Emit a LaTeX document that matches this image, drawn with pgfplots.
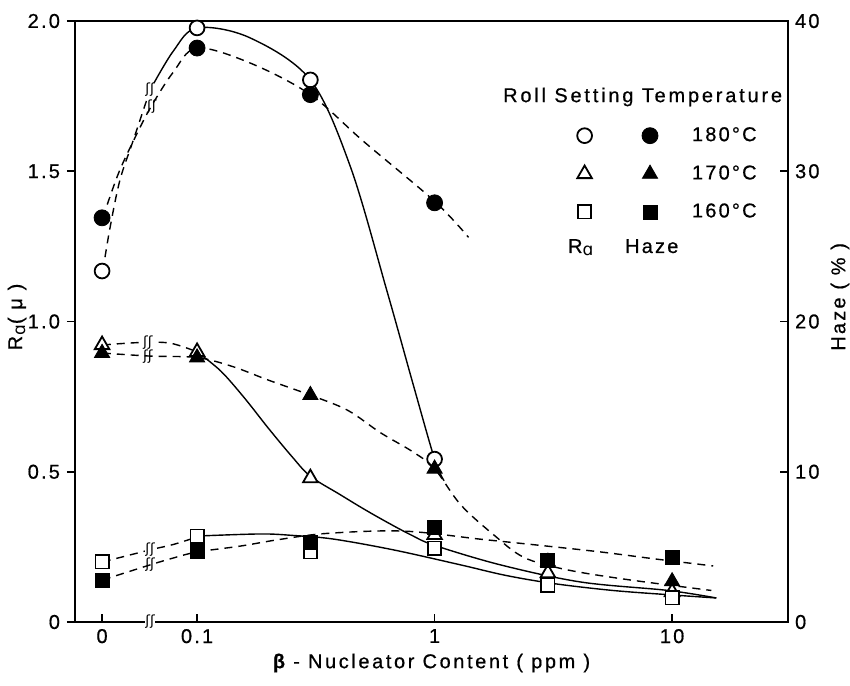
\documentclass[border=0pt]{standalone}
\usepackage{fontspec}
\setmainfont{Liberation Sans}[LetterSpace=11, FakeBold=0.6]
\newfontfamily\dejavu{DejaVu Sans}
\usepackage{pgfplots}
\pgfplotsset{compat=1.18}
\tikzset{brk/.style={fill=white, inner sep=0.2pt, font=\dejavu\fontsize{7}{7}\selectfont}}

\begin{document}
\begin{tikzpicture}[font=\fontsize{10}{12}\selectfont]
\pgfplotsset{
  base/.style={scale only axis, width=356.5pt, height=300.5pt, at={(0,0)}, anchor=south west,
    xmin=-1.514, xmax=1.488,
    /pgf/number format/assume math mode=true,
    tick label style={font=\fontsize{10}{12}\selectfont},
    label style={font=\fontsize{10}{12}\selectfont},
    axis line style={line width=0.9pt},
    major tick length=4pt,
    every tick/.style={line width=0.8pt, black}},
  cur/.style={black, line width=0.7pt, smooth, tension=0.55, no marks},
  dsh/.style={cur, dash pattern=on 4pt off 3pt},
  opn/.style={only marks, black, line width=0.9pt, mark options={fill=white, solid}},
  fil/.style={only marks, black, mark options={fill=black, solid}},
}
\begin{axis}[base, ymin=0, ymax=2,
  xtick={-1.4,-1,0,1}, xticklabels={0,0.1,1,10}, xtick pos=bottom, xtick align=inside,
  ytick={0,0.5,1,1.5,2}, yticklabels={0,0.5,1.0,1.5,2.0}, ytick pos=left, ytick align=outside,
  xlabel={\addfontfeature{LetterSpace=13}{\bfseries β} - Nucleator Content ( ppm )},
  ylabel={R\textsubscript{\dejavu\fontsize{8.5}{9}\selectfont ɑ}( μ )},
  every axis x label/.style={at={(axis description cs:0.5,0)}, anchor=center, yshift=-20.5pt},
  every axis y label/.style={at={(axis description cs:-0.0814,0.5075)}, anchor=center, rotate=90},
  clip=false]
% 180 C  Ra
\addplot[dsh] coordinates {(-1.397,1.168)(-1.367,1.31)(-1.325,1.47)(-1.27,1.60)(-1.198,1.77)};
\addplot[cur] coordinates {(-1.198,1.77)(-1.1,1.90)(-1,1.977)(-0.78,1.945)(-0.523,1.804)(-0.354,1.514)(-0.2,1.10)(-0.09,0.79)(0,0.542)(0.04,0.47)};
% 170 C  Ra
\addplot[dsh] coordinates {(-1.397,0.922)(-1.24,0.93)(-1.114,0.928)(-1,0.899)};
\addplot[cur] coordinates {(-1,0.899)(-0.9,0.835)(-0.8,0.745)(-0.7,0.645)(-0.6,0.55)(-0.523,0.485)(-0.4,0.425)(-0.3,0.377)(-0.2,0.332)(-0.1,0.29)(0,0.255)(0.278,0.19)(0.616,0.133)(0.983,0.105)(1.186,0.08)};
% 160 C  Ra
\addplot[dsh] coordinates {(-1.397,0.2)(-1.198,0.24)(-1.1,0.258)(-1,0.283)};
\addplot[cur] coordinates {(-1,0.286)(-0.734,0.293)(-0.595,0.288)(-0.426,0.276)(-0.173,0.24)(0.11,0.19)(0.3,0.155)(0.5,0.128)(0.75,0.105)(1.0,0.09)(1.186,0.08)};
% Ra markers
\addplot[opn, mark=*, mark size=3.7pt] coordinates {(-1.4,1.168)(-1,1.977)(-0.523,1.804)(0,0.542)};
\addplot[opn, mark=triangle*, mark size=4.2pt] coordinates {(-1.4,0.922)(-1,0.899)(-0.523,0.479)(0,0.29)(0.477,0.163)(1,0.10)};
\addplot[opn, mark=square*, mark size=3.3pt] coordinates {(-1.4,0.2)(-1,0.286)(-0.523,0.233)(0,0.246)(0.477,0.123)(1,0.08)};
% break marks
\node[brk] at (axis cs:-1.198,1.77) {ʃʃ};
\node[brk] at (axis cs:-1.19,1.714) {ʃʃ};
\node[brk] at (axis cs:-1.207,0.93) {ʃʃ};
\node[brk] at (axis cs:-1.207,0.884) {ʃʃ};
\node[brk] at (axis cs:-1.198,0.24) {ʃʃ};
\node[brk] at (axis cs:-1.198,0.19) {ʃʃ};
\node[brk] at (axis cs:-1.198,0) {ʃʃ};
% legend texts
\node[anchor=base west, inner sep=0pt] at (axis description cs:0.600,0.865) {\addfontfeature{LetterSpace=14}Roll Setting Temperature};
\node[anchor=base west, inner sep=0pt] at (axis description cs:0.691,0.614) {R\textsubscript{\dejavu\fontsize{8.5}{9}\selectfont ɑ}};
\node[anchor=base west, inner sep=0pt] at (axis description cs:0.771,0.614) {Haze};
\end{axis}
\begin{axis}[base, ymin=0, ymax=40,
  axis x line=none, axis y line*=right,
  ytick={0,10,20,30,40}, yticklabels={0,10,20,30,40}, ytick align=inside,
  ylabel={Haze ( \% )},
  every axis y label/.style={at={(axis description cs:1.073,0.541)}, anchor=center, rotate=90},
  legend columns=2,
  legend style={at={(axis description cs:0.7038,0.824)}, anchor=north west, draw=none, fill=none,
    inner sep=0pt, column sep=0pt, row sep=10.5pt, nodes={inner sep=0pt, anchor=west}},
  legend cell align=left,
  clip=false]
% haze curves
\addplot[dsh, forget plot] coordinates {(-1.397,26.9)(-1.33,29.9)(-1.25,32.6)(-1.19,34.4)(-1.1,36.6)(-1,38.2)(-0.776,37.2)(-0.523,35.1)(-0.3,32.0)(0,28.0)(0.143,25.6)};
\addplot[dsh, forget plot] coordinates {(-1.397,17.9)(-1.2,17.7)(-1,17.6)(-0.85,17.0)(-0.7,16.1)(-0.523,15.1)(-0.367,14.1)(-0.228,12.6)(-0.089,11.3)(0,10.2)(0.11,7.8)(0.249,5.8)(0.376,4.3)(0.55,3.5)(0.8,2.85)(1.165,2.1)};
\addplot[dsh, forget plot] coordinates {(-1.397,2.8)(-1.198,3.8)(-1.1,4.26)(-1,4.66)(-0.819,5.05)(-0.65,5.5)(-0.45,5.9)(-0.131,6.05)(0.2,5.5)(0.444,5.1)(0.7,4.66)(0.932,4.19)(1.173,3.73)};
% haze markers
\addplot[fil, mark=*, mark size=4pt, forget plot] coordinates {(-1.4,26.9)(-1,38.2)(-0.523,35.1)(0,27.9)};
\addplot[fil, mark=triangle*, mark size=4.4pt, forget plot] coordinates {(-1.4,17.9)(-1,17.6)(-0.523,15.1)(0,10.2)(0.477,4.0)(1,2.7)};
\addplot[fil, mark=square*, mark size=3.5pt, forget plot] coordinates {(-1.4,2.8)(-1,4.7)(-0.523,5.3)(0,6.3)(0.477,4.1)(1,4.3)};
% legend
\addlegendimage{legend image code/.code={\draw[black, line width=0.9pt, mark=*, mark options={fill=white}, mark size=3.7pt] plot coordinates {(0pt,0pt)};}}
\addlegendentry{\hspace*{25pt}}
\addlegendimage{legend image code/.code={\draw[black, mark=*, mark options={fill=black}, mark size=4pt] plot coordinates {(0pt,0pt)};}}
\addlegendentry{\hspace*{17pt}180°C}
\addlegendimage{legend image code/.code={\draw[black, line width=0.9pt, mark=triangle*, mark options={fill=white}, mark size=4.2pt] plot coordinates {(0pt,0pt)};}}
\addlegendentry{\hspace*{25pt}}
\addlegendimage{legend image code/.code={\draw[black, mark=triangle*, mark options={fill=black}, mark size=4.4pt] plot coordinates {(0pt,0pt)};}}
\addlegendentry{\hspace*{17pt}170°C}
\addlegendimage{legend image code/.code={\draw[black, line width=0.9pt, mark=square*, mark options={fill=white}, mark size=3.3pt] plot coordinates {(0pt,0pt)};}}
\addlegendentry{\hspace*{25pt}}
\addlegendimage{legend image code/.code={\draw[black, mark=square*, mark options={fill=black}, mark size=3.5pt] plot coordinates {(0pt,0pt)};}}
\addlegendentry{\hspace*{17pt}160°C}
\end{axis}
\pgfresetboundingbox
\useasboundingbox (-37.5pt,-31.5pt) rectangle (387.5pt,311pt);
\end{tikzpicture}
\end{document}
